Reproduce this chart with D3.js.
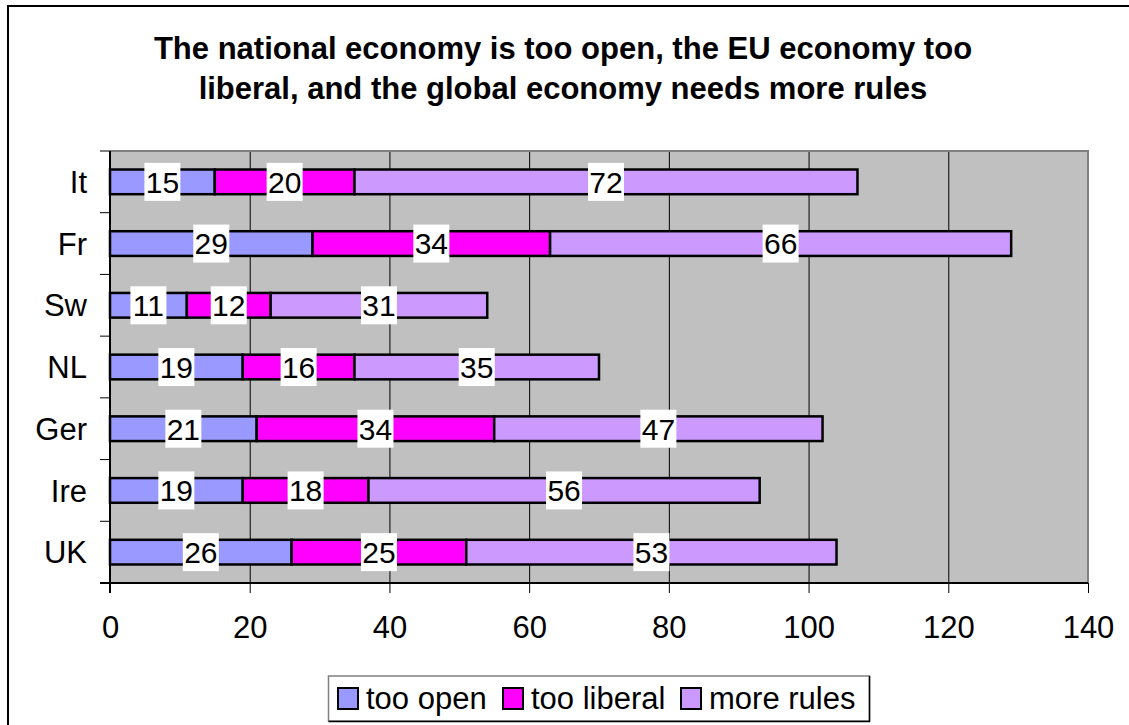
<!DOCTYPE html>
<html>
<head>
<meta charset="UTF-8">
<title>Economy opinion - stacked bars</title>
<script src="https://cdn.jsdelivr.net/npm/d3@7"></script>
<style>
  body { margin: 0; background: #fff; }
  svg { display: block; font-family: "Liberation Sans", Arial, sans-serif; }
</style>
</head>
<body>
<script>
  // Data (top row first)
  const categories = ["It", "Fr", "Sw", "NL", "Ger", "Ire", "UK"];
  const tooOpen    = [15, 29, 11, 19, 21, 19, 26];
  const tooLiberal = [20, 34, 12, 16, 34, 18, 25];
  const moreRules  = [72, 66, 31, 35, 47, 56, 53];
  const seriesNames = ["too open", "too liberal", "more rules"];
  const seriesColors = ["#9999FF", "#FF00FF", "#CC99FF"];
  const xTicks = [0, 20, 40, 60, 80, 100, 120, 140];
  const titleLines = [
    "The national economy is too open, the EU economy too",
    "liberal, and the global economy needs more rules"
  ];

  const w = 1129, h = 725;
  const plot = { left: 110, top: 151, right: 1088, bottom: 583 };

  const svg = d3.select("body").append("svg")
    .attr("width", w)
    .attr("height", h);

  // outer chart frame (runs off the right / bottom edge)
  svg.append("rect")
    .attr("x", 8).attr("y", 6)
    .attr("width", w + 20).attr("height", h + 20)
    .attr("fill", "#fff")
    .attr("stroke", "#000")
    .attr("stroke-width", 2);

  // title
  svg.append("text")
    .attr("x", 563)
    .attr("y", 59)
    .attr("text-anchor", "middle")
    .style("font-size", "31px")
    .style("font-weight", "bold")
    .selectAll("tspan")
    .data(titleLines)
    .join("tspan")
    .attr("x", 563)
    .attr("dy", (d, i) => i === 0 ? 0 : 40)
    .text(d => d);

  const x = d3.scaleLinear()
    .domain([0, 140])
    .range([plot.left, plot.right]);

  const y = d3.scaleBand()
    .domain(categories)
    .range([plot.top, plot.bottom])
    .paddingInner(0.6)
    .paddingOuter(0.3);

  // plot background
  svg.append("rect")
    .attr("x", plot.left).attr("y", plot.top)
    .attr("width", plot.right - plot.left)
    .attr("height", plot.bottom - plot.top)
    .attr("fill", "#C0C0C0");

  // vertical gridlines
  svg.append("g")
    .selectAll("line")
    .data(xTicks.slice(1, -1))
    .join("line")
    .attr("x1", d => x(d) + 0.5).attr("x2", d => x(d) + 0.5)
    .attr("y1", plot.top).attr("y2", plot.bottom)
    .attr("stroke", "#000")
    .attr("stroke-width", 1);

  // plot area border: grey top/right
  svg.append("path")
    .attr("d", `M${plot.left},${plot.top}H${plot.right}V${plot.bottom}`)
    .attr("fill", "none")
    .attr("stroke", "#808080")
    .attr("stroke-width", 2);

  // stacked bars
  const rows = categories.map((c, i) => ({
    cat: c, "too open": tooOpen[i], "too liberal": tooLiberal[i], "more rules": moreRules[i]
  }));
  const stacked = d3.stack().keys(seriesNames)(rows);

  const layers = svg.append("g")
    .selectAll("g")
    .data(stacked)
    .join("g")
    .attr("fill", (d, i) => seriesColors[i]);

  layers.selectAll("rect")
    .data(d => d)
    .join("rect")
    .attr("x", d => x(d[0]))
    .attr("y", d => y(d.data.cat))
    .attr("width", d => x(d[1]) - x(d[0]))
    .attr("height", y.bandwidth())
    .attr("stroke", "#000")
    .attr("stroke-width", 2.5);

  // data labels with white boxes
  const labels = svg.append("g")
    .selectAll("g")
    .data(stacked.flatMap(s => s.map(d => ({ d, v: d[1] - d[0] }))))
    .join("g")
    .attr("transform", o => `translate(${x((o.d[0] + o.d[1]) / 2)},${y(o.d.data.cat) + y.bandwidth() / 2})`);

  labels.append("rect")
    .attr("x", -18).attr("y", -19)
    .attr("width", 36).attr("height", 38)
    .attr("fill", "#fff");

  labels.append("text")
    .attr("text-anchor", "middle")
    .attr("dy", "0.36em")
    .style("font-size", "30px")
    .text(o => o.v);

  // x axis
  const xAxis = svg.append("g")
    .attr("transform", `translate(0,${plot.bottom})`)
    .call(d3.axisBottom(x).tickValues(xTicks).tickSize(10).tickPadding(23));
  xAxis.select(".domain").attr("stroke", "#000").attr("stroke-width", 2)
    .attr("d", `M${plot.left - 10},0H${plot.right}`);
  xAxis.selectAll("text")
    .style("font-size", "31px")
    .attr("fill", "#000")
    .attr("font-family", null);

  // y axis: ticks at band boundaries
  const bounds = d3.range(categories.length + 1).map(i => plot.top + i * (plot.bottom - plot.top) / categories.length);
  svg.append("line")
    .attr("x1", plot.left).attr("x2", plot.left)
    .attr("y1", plot.top).attr("y2", plot.bottom + 10)
    .attr("stroke", "#000").attr("stroke-width", 2);
  svg.append("g")
    .selectAll("line")
    .data(bounds)
    .join("line")
    .attr("x1", plot.left - 10).attr("x2", plot.left)
    .attr("y1", d => d).attr("y2", d => d)
    .attr("stroke", "#000").attr("stroke-width", 1);

  svg.append("g")
    .selectAll("text")
    .data(categories)
    .join("text")
    .attr("x", 87)
    .attr("y", d => y(d) + y.bandwidth() / 2)
    .attr("dy", "0.36em")
    .attr("text-anchor", "end")
    .style("font-size", "31px")
    .text(d => d);

  // legend
  const legend = svg.append("g");
  legend.append("rect")
    .attr("x", 328.5).attr("y", 676)
    .attr("width", 541).attr("height", 45)
    .attr("fill", "#fff")
    .attr("stroke", "#808080")
    .attr("stroke-width", 1.5);
  legend.append("path")
    .attr("d", "M869.5,676V721.5H328.5")
    .attr("fill", "none")
    .attr("stroke", "#000")
    .attr("stroke-width", 1.5);

  const swatchX = [338, 503, 681];
  const items = legend.selectAll("g.item")
    .data(seriesNames)
    .join("g")
    .attr("class", "item")
    .attr("transform", (d, i) => `translate(${swatchX[i]},688)`);
  items.append("rect")
    .attr("width", 20).attr("height", 21)
    .attr("fill", (d, i) => seriesColors[i])
    .attr("stroke", "#000")
    .attr("stroke-width", 2);
  items.append("text")
    .attr("x", 28)
    .attr("y", 21)
    .style("font-size", "31px")
    .text(d => d);
</script>
</body>
</html>
